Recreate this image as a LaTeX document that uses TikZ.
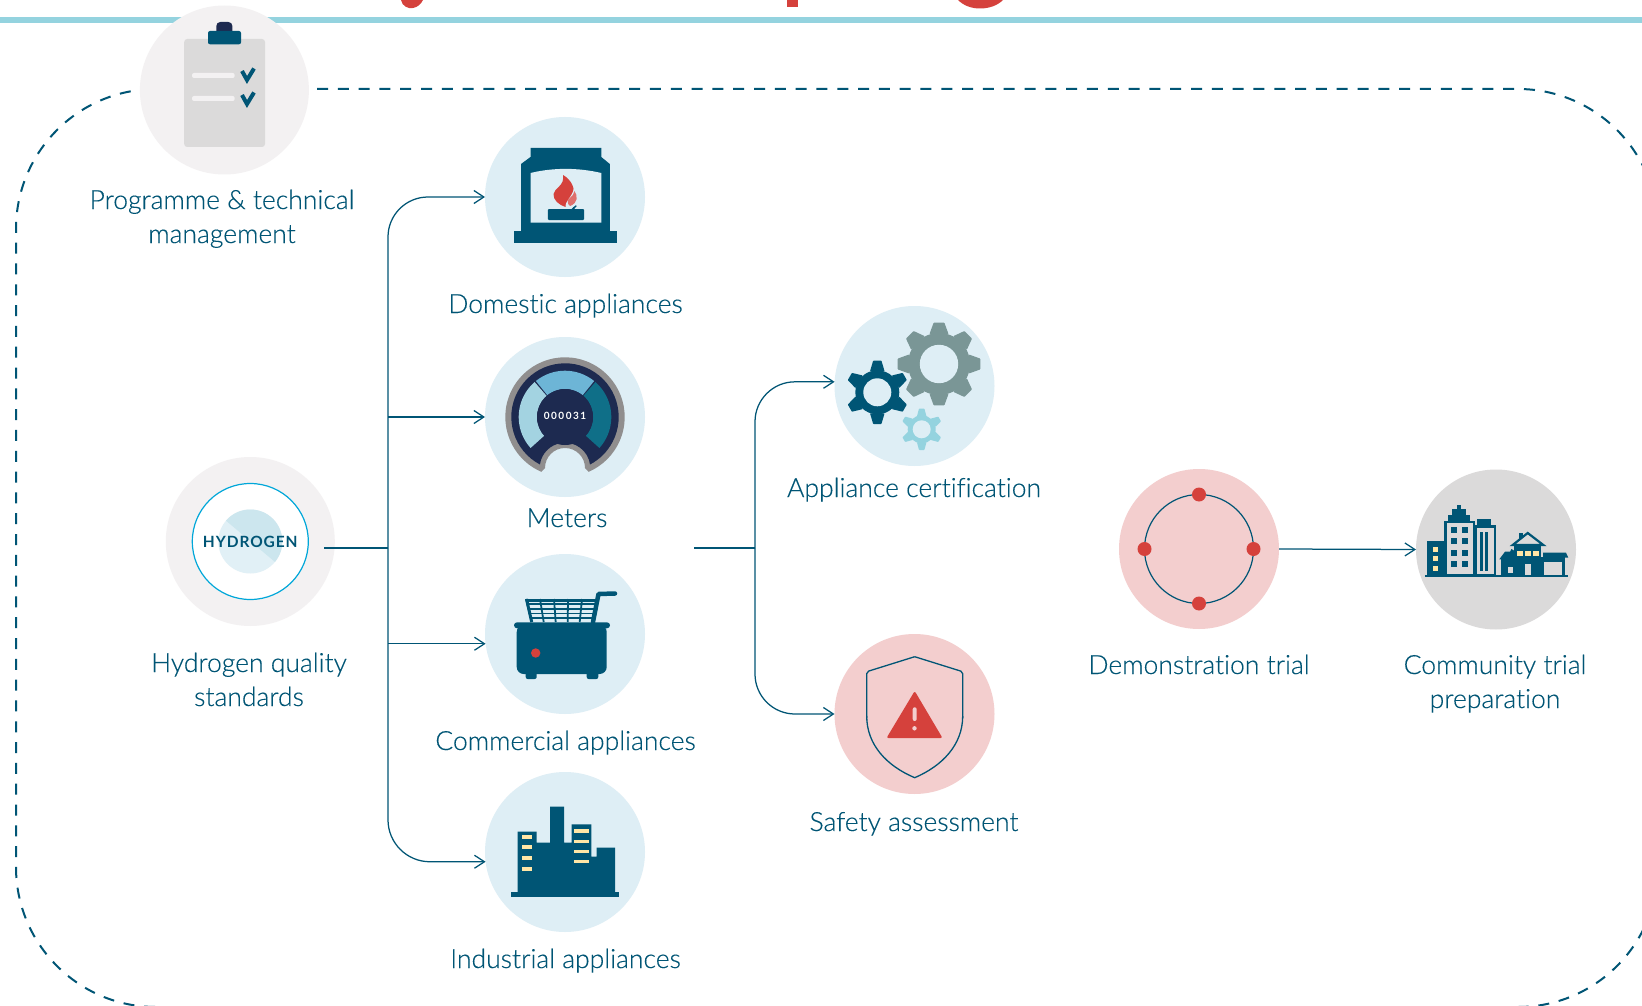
\documentclass[tikz,border=0pt]{standalone}
\usepackage{fontspec}
\setmainfont{Lato}[UprightFont=* Light,BoldFont=* Bold,UprightFeatures={FakeBold=0.3},Ligatures=NoCommon]
\newfontfamily\hlbl{Lato}[UprightFont=* Bold,LetterSpace=6]
\usetikzlibrary{arrows.meta}
\definecolor{hteal}{HTML}{005575}
\definecolor{diskblue}{HTML}{DEEEF5}
\definecolor{diskpink}{HTML}{F3CECE}
\definecolor{diskgray}{HTML}{DBDADA}
\definecolor{diskpale}{HTML}{F3F1F2}
\definecolor{barblue}{HTML}{94D3DF}
\definecolor{hred}{HTML}{D5413C}
\definecolor{hnavy}{HTML}{1D2A50}
\definecolor{hyellow}{HTML}{FFE6A6}
\definecolor{gearg}{HTML}{7A9696}
\definecolor{ringc}{HTML}{00A7D9}
\definecolor{mgray}{HTML}{908E8E}
\definecolor{mlight}{HTML}{A3D3E1}
\definecolor{mmid}{HTML}{6DB5D6}
\definecolor{mdark}{HTML}{0F6F88}
\definecolor{hdisc}{HTML}{E1F0F6}
\definecolor{hband}{HTML}{CCE6EE}
\tikzset{
 disc/.style={circle,inner sep=0pt,outer sep=0pt,minimum size=160pt,fill=#1},
 bigdisc/.style={circle,inner sep=0pt,outer sep=0pt,minimum size=169pt,fill=diskpale},
 stem/.style={draw=hteal,line width=1.25pt},
 conn/.style={stem,-{Straight Barb[length=10pt,width=13pt]}},
 lab/.style={text=hteal,align=center,anchor=base,inner sep=0pt,font=\fontsize{26.5}{34}\selectfont},
 dashframe/.style={draw=hteal,line width=2pt,dash pattern=on 11pt off 9.81pt},
 win/.style={fill=hyellow},
}
\newcommand{\gearicon}[7]{%
 \begin{scope}[shift={(#1,#2)}]
  \fill[#7] (0,0) circle[radius=#4];
  \pgfmathsetmacro\wb{#3*0.23}\pgfmathsetmacro\wt{#3*0.13}
  \foreach \k in {1,...,#6}{
   \fill[#7,rotate=\k*360/#6,rounded corners=0.6pt] (-\wb,-#4+1)--(-\wt,-#3)--(\wt,-#3)--(\wb,-#4+1)--cycle;
  }
  \fill[diskblue] (0,0) circle[radius=#5];
 \end{scope}}
\begin{document}
\begin{tikzpicture}[x=1pt,y=-1pt]
\clip (0,0) rectangle (1642,1006);
\fill[white] (0,0) rectangle (1642,1006);
% title fragments and bar
\fill[hred] (401,0) .. controls (402,6) and (408,9) .. (413,8) .. controls (418,7) and (421,4) .. (423,0) -- cycle;
\fill[hred] (787,0) rectangle (798,7);
\fill[hred] (958,0) .. controls (964,6) and (972,8.5) .. (980,8.5) .. controls (990,8.5) and (998,5) .. (1003,0) -- cycle;
\fill[barblue] (0,17) rectangle (1642,23);
% dashed frame
\draw[dashframe] (317,89) -- (1518,89) arc[start angle=-90,end angle=0,radius=140] -- (1658,867) arc[start angle=0,end angle=90,radius=140] -- (156,1007) arc[start angle=90,end angle=180,radius=140] -- (16,229) arc[start angle=180,end angle=259.7,radius=140];
% discs
\node[bigdisc] (prog) at (224.4,90) {};
\node[bigdisc] (hyd) at (250.3,541.5) {};
\node[disc=diskblue] (dom) at (565,197) {};
\node[disc=diskblue] (met) at (565,417) {};
\node[disc=diskblue] (com) at (565,634) {};
\node[disc=diskblue] (ind) at (565,852) {};
\node[disc=diskblue] (cert) at (914.5,386) {};
\node[disc=diskpink] (saf) at (914.5,714) {};
\node[disc=diskpink] (dem) at (1199,549) {};
\node[disc=diskgray] (cmt) at (1496,549.5) {};
% connectors
\coordinate (hs) at (324,548);
\coordinate (t1) at (388,548);
\coordinate (ms) at (694,548);
\coordinate (t2) at (755,548);
\draw[stem] (hs) -- (t1);
\draw[conn,rounded corners=40pt] (t1) |- (dom.west);
\draw[conn] (t1 |- met.west) -- (met.west);
\draw[conn] (t1 |- com.187) -- (com.187);
\draw[conn,rounded corners=42pt] (t1) |- (ind.187);
\draw[stem] (ms) -- (t2);
\draw[conn,rounded corners=40pt] (t2) |- (cert.177);
\draw[conn,rounded corners=40pt] (t2) |- (saf.west);
\draw[conn] (dem.east) -- (cmt.west);
% clipboard
\fill[diskgray,rounded corners=3pt] (184.2,39) rectangle (265,147);
\fill[hnavy,rounded corners=4pt] (216.3,22) rectangle (232.4,36);
\fill[hteal,rounded corners=2pt] (208,31) rectangle (241,44.3);
\fill[diskpale,rounded corners=2pt] (192,73) rectangle (234.7,78);
\fill[diskpale,rounded corners=2pt] (192,96) rectangle (234.7,101);
\draw[hteal,line width=4pt] (242,71) -- (247,80) -- (254,68.5);
\draw[hteal,line width=4pt] (242,95) -- (247,104) -- (254,92.5);
% fireplace
\fill[hteal] (514,231.3) rectangle (616.6,242.7);
\fill[hteal] (530.5,148) -- (601.3,148) -- (601.3,157) -- (609.8,164) -- (609.8,232) -- (521,232) -- (521,164) -- (530.5,157) -- cycle;
\fill[diskblue] (530.5,173) .. controls (553,167.5) and (578,167.5) .. (601.3,173) -- (601.3,222.7) -- (530.5,222.7) -- cycle;
\fill[hteal,rounded corners=1pt] (547.8,209) rectangle (584,220);
\draw[hteal,line width=1.8pt] (572,210) -- (576,205.5);
\fill[hred] (563,175) .. controls (572,180) and (576,190) .. (573,198) .. controls (572,202) and (569,205) .. (565.5,207) .. controls (559,205) and (553,200) .. (553.5,194) .. controls (554,188) and (565,186) .. (563,175) -- cycle;
\fill[diskblue] (574,188) .. controls (576,190) and (579,200) .. (577,204) .. controls (574,208) and (567,209) .. (565.5,208) .. controls (565,200) and (572,198) .. (574,188) -- cycle;
\fill[hred!75!white] (574.5,191) .. controls (578,196) and (578,203) .. (570,206) .. controls (567,204) and (567,199) .. (570,198) .. controls (572,196.5) and (574,194) .. (574.5,191) -- cycle;
% meter
\begin{scope}[shift={(565,417)}]
 \fill[mgray] (113.3:59.7) arc[start angle=113.3,end angle=426.7,radius=59.7] -- (20,51) arc[start angle=0,end angle=-180,radius=20] -- cycle;
 \fill[hnavy] (117.8:53.7) arc[start angle=117.8,end angle=422.2,radius=53.7] arc[start angle=-8,end angle=-172,radius=25.3] -- cycle;
 \fill[mlight] (-131:46.3) arc[start angle=-131,end angle=-222,radius=46.3] -- (-222:28) arc[start angle=-222,end angle=-131,radius=28] -- cycle;
 \fill[mmid] (-129:46.3) arc[start angle=-129,end angle=-51,radius=46.3] -- (-51:28) arc[start angle=-51,end angle=-129,radius=28] -- cycle;
 \fill[mdark] (-49:46.3) arc[start angle=-49,end angle=42,radius=46.3] -- (42:28) arc[start angle=42,end angle=-49,radius=28] -- cycle;
 \fill[hnavy] (0,0) circle[radius=28];
\end{scope}
\node[text=white,inner sep=0pt,font={\hlbl\fontsize{10}{12}\selectfont\addfontfeature{LetterSpace=15}}] (meterno) at (565,415.7) {000031};
% fryer
\fill[hteal,rounded corners=2pt] (525.7,670) rectangle (536.7,679);
\fill[hteal,rounded corners=2pt] (586.7,670) rectangle (598.3,679);
\fill[hteal,rounded corners=7pt] (516.7,625) -- (606.7,625) -- (606.7,674) -- (516.7,674) -- cycle;
\fill[hteal,rounded corners=3pt] (514,622.3) rectangle (610,628.3);
\draw[hteal,line width=1.8pt] (526,599) -- (531.7,622) (540,599) -- (543.7,622) (554,599) -- (555.7,622) (568,599) -- (567.7,622) (582,599) -- (579.7,622);
\draw[hteal,line width=1.8pt] (527.2,604) -- (595,604) (528.5,609) -- (594,609) (529.6,613.5) -- (593.3,613.5) (530.7,618) -- (592.4,618);
\draw[hteal,line width=3pt] (527.5,600.5) -- (596,600.5);
\draw[hteal,line width=3pt] (526.5,599) -- (531.7,622);
\draw[hteal,line width=4.5pt,line join=round,line cap=round] (593,622) -- (598.5,594) -- (615,593.5);
\fill[hred] (535.7,653) circle[radius=4.7];
% factory
\fill[hteal] (511,892) rectangle (619,897);
\fill[hteal] (517.7,892) -- (517.7,831.7) -- (536.7,831.7) -- (536.7,842.7) -- (550,842.7) -- (550,806.7) -- (564,806.7) -- (564,842.7) -- (571.7,842.7) -- (571.7,824.3) -- (591.3,824.3) -- (591.3,856.7) -- (596.7,856.7) -- (596.7,847.7) -- (615,847.7) -- (615,892) -- cycle;
\foreach \y in {835,845.3,856,866.7}{\fill[win] (522,\y) rectangle (532,\y+4);}
\foreach \y in {829.3,840,850,860}{\fill[win] (574,\y) rectangle (589,\y+3.4);}
% gears
\gearicon{939}{364}{41.3}{31}{19.2}{8}{gearg}
\gearicon{877.3}{392.3}{31.7}{22}{14}{6}{hteal}
\gearicon{921.7}{429.3}{20.7}{14}{9}{6}{barblue}
% shield
\draw[hteal,line width=1.3pt,rounded corners=2pt] (914.7,656.7) -- (962.7,671.7) -- (962.7,718.3);
\draw[hteal,line width=1.3pt,rounded corners=2pt] (914.7,656.7) -- (866.7,671.7) -- (866.7,718.3);
\draw[hteal,line width=1.3pt] (962.7,716) .. controls (962.7,745) and (942,766) .. (914.7,777.7) .. controls (887,766) and (866.7,745) .. (866.7,716);
\fill[hred,rounded corners=2pt] (914.7,691) -- (942.5,738) -- (886.5,738) -- cycle;
\fill[diskpink,rounded corners=2pt] (912.7,707.3) rectangle (916.7,721);
\fill[diskpink] (914.5,728.3) circle[radius=2.2];
% demonstration
\draw[hteal,line width=1.2pt] (1199,549) circle[radius=54.5];
\foreach \a/\b in {0/54.5,90/54.5,180/54.5,270/54.5}{\fill[hred] (1199,549) ++(\a:\b) circle[radius=7];}
% community
\fill[hteal] (1425,574.7) rectangle (1567.7,577);
\fill[hteal] (1427,541.3) rectangle (1445,575);
\foreach \y in {547,556,566}{\fill[win] (1433,\y) rectangle (1438,\y+5);}
\fill[hteal] (1457.3,505) rectangle (1461,512);
\fill[hteal] (1452.3,509.3) rectangle (1466,518);
\fill[hteal] (1448,515) rectangle (1470,522);
\fill[diskgray,draw=hteal,line width=2.5pt] (1445.5,522) rectangle (1474,575);
\foreach \y in {527,538,550,561}{\fill[hteal] (1451,\y) rectangle (1457,\y+6);\fill[hteal] (1462,\y) rectangle (1468,\y+6);}
\fill[hteal] (1476.7,519.3) rectangle (1490.7,527);
\fill[diskgray,draw=hteal,line width=2.5pt] (1476,526.5) rectangle (1495,575);
\fill[hteal] (1480,531.7) rectangle (1482.7,571);
\fill[hteal] (1485,531.7) rectangle (1487.7,571);
\fill[hteal] (1501,556.7) rectangle (1543,575);
\fill[hteal] (1499.3,559.3) -- (1505,551.7) -- (1510,551.7) -- (1511.5,549) -- (1516,552) -- (1516,560) -- cycle;
\fill[hteal] (1514.3,545) rectangle (1540.7,558);
\fill[hteal] (1519.3,532.7) rectangle (1523.3,542);
\fill[diskgray,draw=hteal,line width=2.2pt,line join=miter] (1527.7,533) -- (1512.7,545) -- (1543.3,545) -- cycle;
\foreach \x in {1516.7,1524.7,1532.7}{\fill[win] (\x,551) rectangle (\x+6,556);}
\fill[diskgray] (1507.7,566.7) rectangle (1512.7,573.3);
\fill[diskgray] (1525.3,564) rectangle (1530.7,575);
\fill[hteal] (1543,552.7) -- (1566,552.7) -- (1568.3,557.7) -- (1543,557.7) -- cycle;
\fill[hteal] (1543,557) rectangle (1565,575);
\fill[diskgray] (1543.7,561.7) rectangle (1562.3,574.5);
% hydrogen
\fill[white,draw=ringc,line width=1.2pt] (250.3,541.5) circle[radius=58];
\begin{scope}[shift={(250.3,541.5)}]
 \fill[hdisc] (0,0) circle[radius=32];
 \fill[hband] (220.6:32) arc[start angle=220.6,end angle=399.6,radius=32] -- cycle;
\end{scope}
\node[text=hteal,inner sep=0pt,font={\hlbl\fontsize{15.5}{18}\selectfont}] (hword) at (250.3,541.5) {HYDROGEN};
% labels
\node[lab] (lprog) at (222,243) {Programme \& technical\\management};
\node[lab] (ldom) at (565.5,313) {Domestic appliances};
\node[lab] (lmet) at (567,527) {Meters};
\node[lab] (lhyd) at (249,706) {Hydrogen quality\\standards};
\node[lab] (lcom) at (565.5,750) {Commercial appliances};
\node[lab] (lind) at (565.5,968) {Industrial appliances};
\node[lab] (lcert) at (914,497) {Appliance certification};
\node[lab] (lsaf) at (914,831) {Safety assessment};
\node[lab] (ldem) at (1199,674) {Demonstration trial};
\node[lab] (lcmt) at (1495,708) {Community trial\\preparation};
\end{tikzpicture}
\end{document}
